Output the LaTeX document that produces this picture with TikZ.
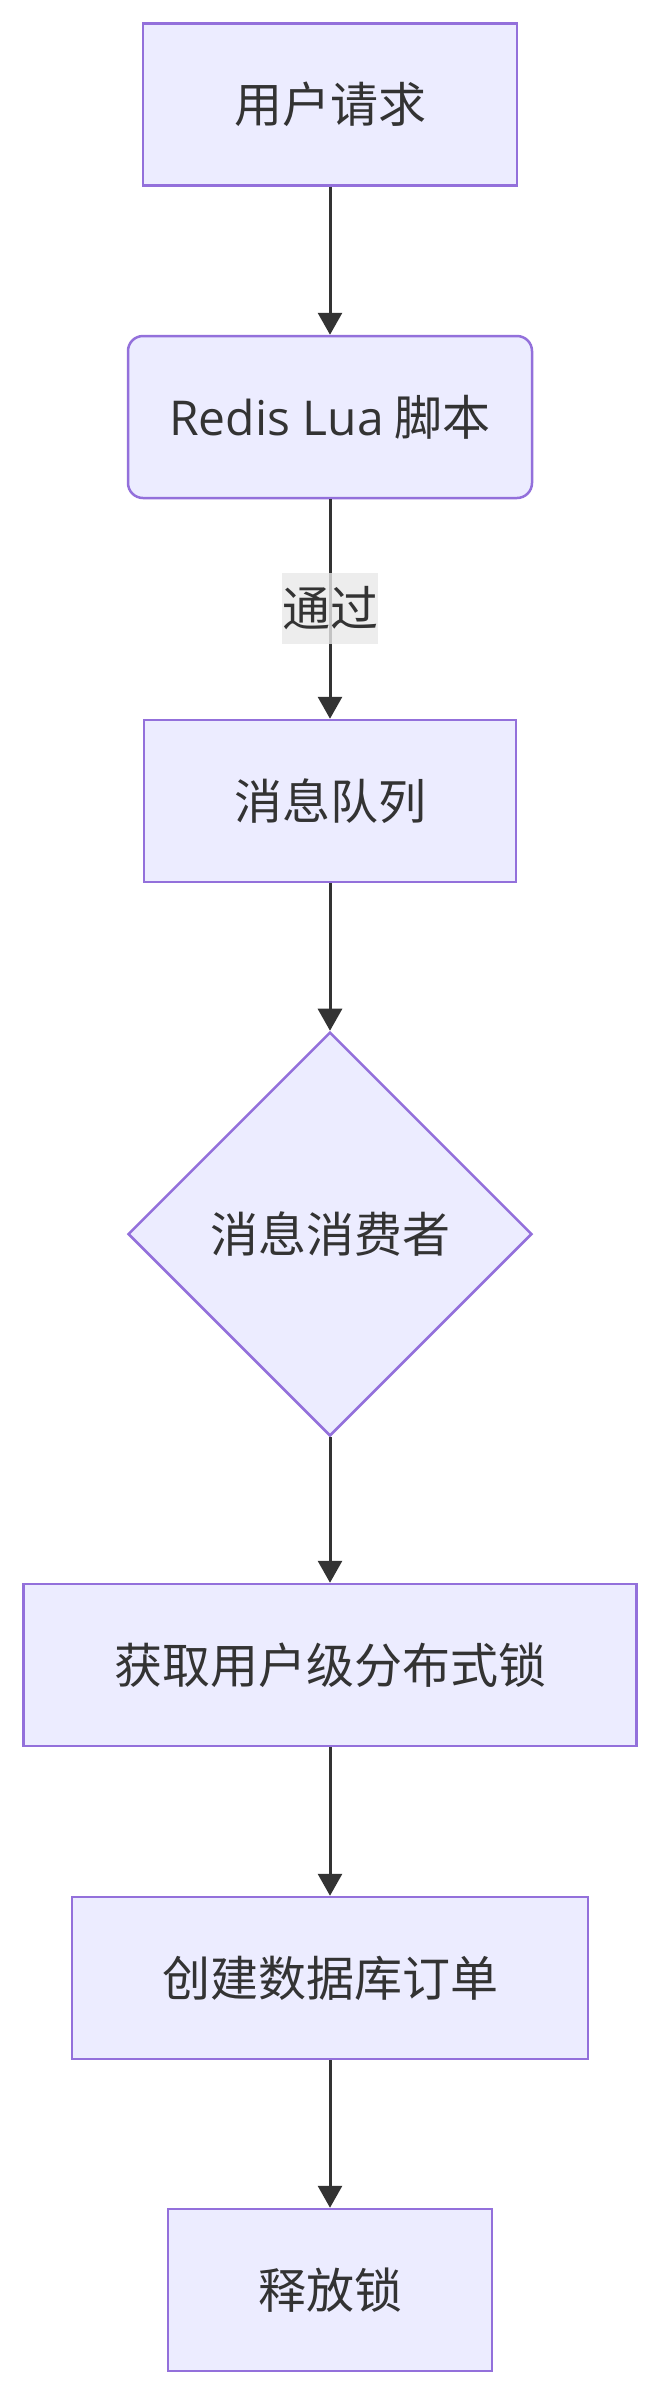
\documentclass[tikz,border=0pt]{standalone}
\usepackage{fontspec}
\setmainfont{Noto Sans CJK SC}
\newfontfamily\latinfont{Open Sans}
\usetikzlibrary{shapes.geometric,arrows.meta}
\definecolor{nodefill}{HTML}{ECECFF}
\definecolor{nodeborder}{HTML}{9370DB}
\definecolor{textcol}{HTML}{333333}
\definecolor{edgecol}{HTML}{333333}
\definecolor{labelbg}{HTML}{E8E8E8}
\tikzset{
  basebox/.style={draw=nodeborder, fill=nodefill, line width=2.5pt, text=textcol,
    font=\fontsize{48}{58}\selectfont, inner sep=0pt, minimum height=162pt},
  procbox/.style={basebox, rectangle},
  roundbox/.style={basebox, rectangle, rounded corners=15pt},
  decisionbox/.style={basebox, diamond, aspect=1, minimum width=404pt, minimum height=404pt},
  edgelabel/.style={fill=labelbg, fill opacity=0.8, text opacity=1, text=textcol,
    font=\fontsize{48}{58}\selectfont, inner sep=0pt, minimum width=96pt, minimum height=71pt},
  flow/.style={draw=edgecol, line width=3pt, -{Triangle[length=22pt,width=24pt]}}
}
\begin{document}
\begin{tikzpicture}[x=1pt,y=-1pt]
\useasboundingbox (0,0) rectangle (660,2394);
\node[procbox, minimum width=374pt] (req) at (330,104.5) {用户请求};
\node[roundbox, minimum width=404pt] (lua) at (330,417) {{\latinfont Redis Lua} 脚本};
\node[procbox, minimum width=372pt] (mq) at (330,801) {消息队列};
\node[decisionbox] (cons) at (330,1234) {消息消费者};
\node[procbox, minimum width=613pt] (lock) at (330,1665) {获取用户级分布式锁};
\node[procbox, minimum width=516pt] (order) at (330,1978) {创建数据库订单};
\node[procbox, minimum width=324pt] (rel) at (330,2290) {释放锁};
\draw[flow] (req) -- (lua);
\draw[flow] (lua) -- (mq);
\node[edgelabel] (pass) at (330,608) {通过};
\draw[flow] (mq) -- (cons);
\draw[flow] (cons) -- (lock);
\draw[flow] (lock) -- (order);
\draw[flow] (order) -- (rel);
\end{tikzpicture}
\end{document}
